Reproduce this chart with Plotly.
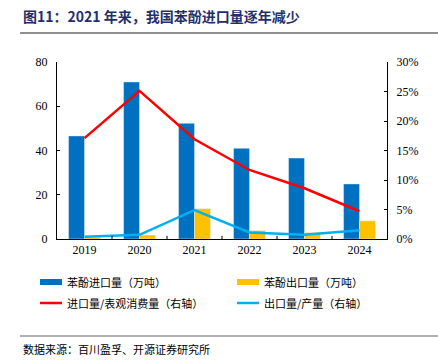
import plotly.graph_objects as go

years = ["2019", "2020", "2021", "2022", "2023", "2024"]
imports = [46.6, 71.0, 52.3, 41.0, 36.6, 24.9]
exports = [0.8, 1.8, 13.7, 3.8, 2.9, 8.2]
import_ratio = [17.1, 25.1, 16.9, 11.7, 8.6, 4.7]
export_ratio = [0.4, 0.7, 4.9, 1.1, 0.7, 1.5]
legend_names = ["苯酚进口量（万吨）", "苯酚出口量（万吨）", "进口量/表观消费量（右轴）", "出口量/产量（右轴）"]
y1_ticks = [0, 20, 40, 60, 80]
y2_ticks = [0, 5, 10, 15, 20, 25, 30]

BLUE = "#0070C0"
YEL = "#FFC000"
RED = "#FF0000"
LBLUE = "#00B0F0"
CJK = "Noto Sans CJK SC"
SERIF = "Liberation Serif"

fig = go.Figure()
fig.add_bar(x=years, y=imports, marker_color=BLUE, name=legend_names[0], showlegend=False)
fig.add_bar(x=years, y=exports, marker_color=YEL, name=legend_names[1], showlegend=False)
fig.add_scatter(x=years, y=import_ratio, mode="lines", line=dict(color=RED, width=2.5),
                yaxis="y2", name=legend_names[2], showlegend=False)
fig.add_scatter(x=years, y=export_ratio, mode="lines", line=dict(color=LBLUE, width=2.5),
                yaxis="y2", name=legend_names[3], showlegend=False)

W, H = 438, 364
L, R, T, B = 57, 51, 62, 125

fig.update_layout(
    width=W, height=H,
    margin=dict(l=L, r=R, t=T, b=B),
    plot_bgcolor="white", paper_bgcolor="white",
    barmode="group", bargap=0.42, bargroupgap=0,
    font=dict(family=SERIF, size=12, color="#000000"),
    xaxis=dict(showline=True, linecolor="#000000", linewidth=1, ticks="", showgrid=False,
               tickfont=dict(family=SERIF, size=12), fixedrange=True),
    yaxis=dict(range=[0, 80], tickvals=y1_ticks, showline=True, linecolor="#000000", linewidth=1,
               ticks="inside", ticklen=3, tickcolor="#000000", showgrid=False, zeroline=False,
               tickfont=dict(family=SERIF, size=12), ticklabelstandoff=6),
    yaxis2=dict(range=[0, 30], tickvals=y2_ticks, ticktext=[f"{v}%" for v in y2_ticks],
                overlaying="y", side="right", showline=True, linecolor="#000000", linewidth=1,
                ticks="inside", ticklen=3, tickcolor="#000000", showgrid=False, zeroline=False,
                tickfont=dict(family=SERIF, size=12), ticklabelstandoff=6),
)

# x-axis boundary ticks (between categories)
for i in range(1, len(years)):
    fig.add_shape(type="line", xref="x", yref="paper", x0=i - 0.5, x1=i - 0.5, y0=0, y1=0.018,
                  line=dict(color="#000000", width=1))

def px_x(px):
    return (px - L) / (W - L - R)

def px_y(py):
    return -(py - (H - B)) / (H - T - B)

# Title
fig.add_annotation(text="<b>图11：2021 年来，我国苯酚进口量逐年减少</b>", xref="paper", yref="paper",
                   x=px_x(21), y=px_y(16), xanchor="left", yanchor="middle",
                   showarrow=False, font=dict(family=CJK, size=14, color="#1F2F6B"))
# header line
fig.add_shape(type="line", xref="paper", yref="paper",
              x0=px_x(20), x1=px_x(438), y0=px_y(33), y1=px_y(33),
              line=dict(color="#909090", width=2))
# footer line
fig.add_shape(type="line", xref="paper", yref="paper",
              x0=px_x(20), x1=px_x(438), y0=px_y(336), y1=px_y(336),
              line=dict(color="#606060", width=1))
fig.add_annotation(text="数据来源：百川盈孚、开源证券研究所", xref="paper", yref="paper",
                   x=px_x(21), y=px_y(349), xanchor="left", yanchor="middle", showarrow=False,
                   font=dict(family=CJK, size=11, color="#000000"))

# Manual legend
legend_items = [
    (legend_names[0], BLUE, "rect", 40, 282),
    (legend_names[1], YEL, "rect", 237, 282),
    (legend_names[2], RED, "line", 40, 303),
    (legend_names[3], LBLUE, "line", 237, 303),
]
for name, col, kind, lx, ly in legend_items:
    if kind == "rect":
        fig.add_shape(type="rect", xref="paper", yref="paper",
                      x0=px_x(lx), x1=px_x(lx + 22), y0=px_y(ly + 3), y1=px_y(ly - 3),
                      fillcolor=col, line=dict(width=0))
    else:
        fig.add_shape(type="line", xref="paper", yref="paper",
                      x0=px_x(lx), x1=px_x(lx + 22), y0=px_y(ly), y1=px_y(ly),
                      line=dict(color=col, width=2.5))
    fig.add_annotation(text=name, xref="paper", yref="paper", x=px_x(lx + 25), y=px_y(ly),
                       xanchor="left", yanchor="middle", showarrow=False,
                       font=dict(family=CJK, size=11, color="#000000"))

fig.write_html("out.html", config={"displayModeBar": False},
               post_script="document.body.style.margin='0';document.body.style.overflow='hidden';")
